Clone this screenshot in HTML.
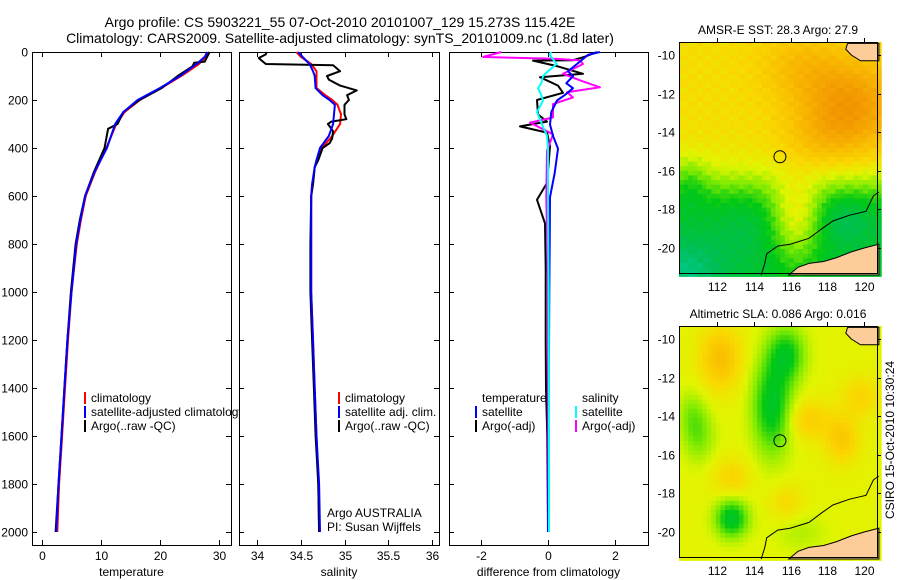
<!DOCTYPE html>
<html><head><meta charset="utf-8">
<style>
html,body{margin:0;padding:0;background:#fff;}
svg{display:block;font-family:"Liberation Sans",sans-serif;}
text{fill:#000;}
</style></head>
<body>
<svg id="fig" width="900" height="580" viewBox="0 0 900 580" xmlns="http://www.w3.org/2000/svg">
<text x="340" y="27" font-size="14" text-anchor="middle">Argo profile: CS 5903221_55 07-Oct-2010 20101007_129 15.273S 115.42E</text>
<text x="340" y="43" font-size="14" text-anchor="middle">Climatology: CARS2009. Satellite-adjusted climatology: synTS_20101009.nc (1.8d later)</text>
<g id="g"></g>
</svg>
<script>
// ---------- data ----------
const depthTicks=[0,200,400,600,800,1000,1200,1400,1600,1800,2000];
const tempTicks=[0,10,20,30];
const salTicks=[34,34.5,35,35.5,36];
const diffTicks=[-2,0,2];
const lonTicks=[112,114,116,118,120];
const latTicks=[-10,-12,-14,-16,-18,-20];

const tClimDepth=[0,20,50,100,150,200,250,300,400,500,600,700,800,1000,1200,1400,1600,1800,2000];
const tClimVal=[28.3,27.8,26.6,23.6,20.2,16.6,14.0,12.6,10.9,9.0,7.4,6.6,5.9,5.0,4.4,3.9,3.4,2.9,2.6];
const tSatVal=[28.0,27.6,26.2,23.4,20.0,16.2,13.8,12.4,11.0,8.9,7.3,6.5,5.8,5.0,4.3,3.8,3.3,2.8,2.4];
const tArgoDepth=[0,20,40,45,60,100,150,200,250,300,320,400,500,600,700,800,1000,1200,1400,1600,1800,2000];
const tArgoVal=[28.4,28.0,27.6,25.8,25.5,23.0,20.3,16.5,13.8,12.8,11.2,10.6,8.8,7.3,6.4,5.7,4.9,4.3,3.8,3.3,2.8,2.3];

const sDepth=[0,20,50,80,100,150,180,200,220,260,300,350,400,450,480,550,600,800,1000,1200,1400,1600,1800,2000];
const sClimVal=[34.45,34.5,34.62,34.68,34.68,34.68,34.78,34.86,34.92,34.96,34.95,34.86,34.74,34.69,34.66,34.64,34.62,34.62,34.62,34.64,34.66,34.68,34.70,34.71];
const sSatVal=[34.47,34.52,34.6,34.64,34.66,34.67,34.75,34.83,34.89,34.88,34.87,34.82,34.72,34.68,34.66,34.63,34.62,34.62,34.62,34.64,34.66,34.68,34.71,34.72];
const sArgoDepth=[0,10,25,35,50,55,80,100,115,140,160,180,200,220,260,280,290,300,330,360,380,400,450,480,550,600,800,1000,1200,1400,1600,1800,2000];
const sArgoVal=[34.11,34.1,34.02,34.05,34.1,34.87,34.95,34.8,34.82,34.95,35.14,35.03,35.05,35.0,35.0,35.02,34.85,34.81,34.87,34.86,34.83,34.75,34.7,34.66,34.64,34.62,34.61,34.61,34.63,34.65,34.67,34.70,34.71];

const dDepth=[0,12,50,80,101,130,151,180,202,250,302,349,403,504,605,800,1000,1500,2000];
const dTempSat=[1.56,1.2,0.87,0.6,0.75,0.55,0.75,0.5,0.27,0.1,0.06,0.15,0.3,0.2,0.06,0.05,0.04,0.02,0.0];
const dSalSat=[0.1,0.05,0.26,0.0,-0.15,-0.2,-0.3,-0.2,-0.15,-0.33,-0.18,-0.03,0.0,0.0,0.0,0.01,0.02,0.03,0.03];
const dTempArgoDepth=[0,20,34,36,60,91,105,140,170,200,260,290,310,336,392,546,616,714,900,1200,1400,1600,2000];
const dTempArgo=[1.47,1.1,0.75,-0.45,0.3,1.05,-0.24,0.3,0.45,-0.33,-0.3,-0.03,-0.84,-0.03,0.06,-0.03,-0.33,-0.09,-0.07,-0.07,-0.06,-0.02,0.0];
const dSalArgoDepth=[0,21,28,35,50,91,120,147,168,189,217,273,294,343,412,600,1000,1500,2000];
const dSalArgo=[-1.4,-1.95,0.2,0.96,1.05,0.45,1.0,1.56,0.57,0.75,0.15,0.15,-0.54,0.15,-0.03,-0.05,0.0,0.0,0.0];

// ---------- helpers ----------
const NS="http://www.w3.org/2000/svg";
const G=document.getElementById('g');
function el(tag,attrs,parent){const e=document.createElementNS(NS,tag);for(const k in attrs)e.setAttribute(k,attrs[k]);(parent||G).appendChild(e);return e;}
function txt(x,y,s,size,anchor,parent){const t=el('text',{x:x,y:y,'font-size':size,'text-anchor':anchor||'start'},parent);t.textContent=s;return t;}
const Y=d=>52+0.24*d;
const TOP=52,BOT=545;

function panel(name,x0,x1,xs,ticks,fmt,xlabel,showDepth){
  const g=el('g',{});
  
  
  const r=el('rect',{x:x0+0.5,y:TOP+0.5,width:x1-x0,height:BOT-TOP,fill:'#fff',stroke:'#000','stroke-width':1},g);
  
  
  ticks.forEach(v=>{const x=Math.round(xs(v))+0.5;
    el('line',{x1:x,x2:x,y1:TOP,y2:TOP+5,stroke:'#000'},g);
    el('line',{x1:x,x2:x,y1:BOT,y2:BOT-5,stroke:'#000'},g);
    const t=txt(x,560,fmt(v),12,'middle',g);
    
    
  });
  depthTicks.forEach(d=>{const y=Math.round(Y(d))+0.5;
    el('line',{x1:x0,x2:x0+5,y1:y,y2:y,stroke:'#000'},g);
    el('line',{x1:x1,x2:x1-5,y1:y,y2:y,stroke:'#000'},g);
    if(showDepth){const t=txt(x0-4,y+4,String(d),12,'end',g);
      
      }
  });
  const xl=txt((x0+x1)/2,576,xlabel,12,'middle',g);
  
  
  return g;
}
function series(g,name,depths,vals,xs,color,w){
  const pts=depths.map((d,i)=>xs(vals[i]).toFixed(1)+','+Y(d).toFixed(1)).join(' ');
  const p=el('polyline',{points:pts,fill:'none',stroke:color,'stroke-width':w||2,'stroke-linejoin':'round'},g);
  
  
}
function legend(g,x,y,color,label,name){
  el('rect',{x:x,y:y-6,width:2,height:12,fill:color},g);
  const t=txt(x+7,y+4,label,12,'start',g);
  
  
}

// ---------- temperature panel ----------
const xT=v=>42+5.9*v;
const p1=panel('temperature-panel',32,231,xT,tempTicks,v=>String(v),'temperature',true);
series(p1,'temperature-climatology-line',tClimDepth,tClimVal,xT,'#ff0000');
series(p1,'temperature-argo-line',tArgoDepth,tArgoVal,xT,'#000');
series(p1,'temperature-satellite-line',tClimDepth,tSatVal,xT,'#0000ff');
legend(p1,84,398,'#ff0000','climatology','legend-climatology');
legend(p1,84,412,'#0000ff','satellite-adjusted climatology','legend-satellite-adjusted');
legend(p1,84,426,'#000','Argo(..raw -QC)','legend-argo');

// ---------- salinity panel ----------
const xS=v=>257+87.5*(v-34);
const p2=panel('salinity-panel',239,439,xS,salTicks,v=>String(v),'salinity',false);
series(p2,'salinity-climatology-line',sDepth,sClimVal,xS,'#ff0000');
series(p2,'salinity-argo-line',sArgoDepth,sArgoVal,xS,'#000');
series(p2,'salinity-satellite-line',sDepth,sSatVal,xS,'#0000ff');
legend(p2,338,398,'#ff0000','climatology','legend-sal-climatology');
legend(p2,338,412,'#0000ff','satellite adj. clim.','legend-sal-satellite');
legend(p2,338,426,'#000','Argo(..raw -QC)','legend-sal-argo');
const a1=txt(327,517,'Argo AUSTRALIA',12,'start',p2);


const a2=txt(327,531,'PI: Susan Wijffels',12,'start',p2);



// ---------- difference panel ----------
const xD=v=>548+33.3*v;
const p3=panel('difference-panel',449,648,xD,diffTicks,v=>String(v),'difference from climatology',false);
series(p3,'temp-argo-diff-line',dTempArgoDepth,dTempArgo,xD,'#000');
series(p3,'sal-argo-diff-line',dSalArgoDepth,dSalArgo,xD,'#ff00ff');
series(p3,'temp-satellite-diff-line',dDepth,dTempSat,xD,'#0000ff');
series(p3,'sal-satellite-diff-line',dDepth,dSalSat,xD,'#00ffff');
const lt=txt(482,402,'temperature',12,'start',p3);


const ls=txt(582,402,'salinity',12,'start',p3);


legend(p3,475,412,'#0000ff','satellite','legend-temp-satellite');
legend(p3,475,426,'#000','Argo(-adj)','legend-temp-argo');
legend(p3,575,412,'#00ffff','satellite','legend-sal-satellite-diff');
legend(p3,575,426,'#ff00ff','Argo(-adj)','legend-sal-argo-diff');

// ---------- maps ----------
const stops=[[0,[0,215,190]],[0.15,[0,190,90]],[0.3,[0,200,20]],[0.42,[130,235,0]],[0.52,[225,245,0]],[0.62,[250,215,0]],[0.75,[248,180,0]],[0.9,[240,140,0]],[1,[230,120,0]]];
function cmap(v){v=Math.max(0,Math.min(1,v));for(let i=1;i<stops.length;i++){if(v<=stops[i][0]){const a=stops[i-1],b=stops[i],t=(v-a[0])/(b[0]-a[0]);return 'rgb('+a[1].map((c,k)=>Math.round(c+(b[1][k]-c)*t)).join(',')+')';}}return 'rgb(230,120,0)';}
const B=(lon,lat,x0,y0,sx,sy)=>Math.exp(-((lon-x0)**2/sx+(lat-y0)**2/sy));
function sst(lon,lat){
  const s=1/(1+Math.exp(-(-16.7-lat)*1.3));
  let v=0.6+0.26*B(lon,lat,119.2,-12.7,8,6)+0.1*B(lon,lat,116.5,-10.5,5,3)+0.06*B(lon,lat,117.5,-14.5,4,2)
   -0.36*s*(1-0.8*B(lon,lat,116.3,-18,2,8))-0.14*B(lon,lat,110.3,-21.2,4,3)-0.05*B(lon,lat,113.5,-19,3,3)
   -0.1*B(lon,lat,110.5,-16.5,1,2)-0.1*B(lon,lat,119,-18.5,2,1.5);
  return v+0.025*Math.sin(lon*7)*Math.cos(lat*9);}
function sla(lon,lat){let v=0.53-0.27*B(lon,lat,115,-13.5,1.1,6)-0.22*B(lon,lat,115.8,-10.8,1,2)-0.28*B(lon,lat,112.8,-19.3,0.8,1)
  -0.12*B(lon,lat,111,-15,0.8,2)-0.08*B(lon,lat,110.6,-13.8,0.6,1.5)+0.18*B(lon,lat,112.2,-11,1.2,2.5)+0.12*B(lon,lat,117,-14.2,1.5,1)+0.14*B(lon,lat,118.8,-15.2,0.8,1.5)
  +0.1*B(lon,lat,119.8,-13,1,1)+0.1*B(lon,lat,112.8,-17.2,1,1)+0.08*B(lon,lat,115.8,-18.5,0.8,1)-0.06*B(lon,lat,116.5,-20,2,1);return v;}
function drawMap(name,top,field,title){
  const L=679,R=877,Bt=top+231;
  const lx=lon=>717+(lon-112)*18.4, ly=lat=>top+13+(-10-lat)*19.3;
  const g=el('g',{});
  
  
  const cs=4.6;
  for(let x=L;x<R;x+=cs)for(let y=top;y<Bt;y+=cs){
    const lon=112+(x+cs/2-717)/18.4, lat=-10-(y+cs/2-top-13)/19.3;
    el('rect',{x:x.toFixed(1),y:y.toFixed(1),width:cs+0.3,height:cs+0.3,fill:cmap(field(lon,lat))},g);}
  const P=a=>a.map(p=>lx(p[0]).toFixed(1)+','+ly(p[1]).toFixed(1)).join(' ');
  const land1=el('polygon',{points:P([[119.1,-9.4],[120.8,-9.4],[120.8,-10.3],[119.8,-10.3],[119.3,-10.0],[119,-9.7]]),fill:'#fccc99',stroke:'#000','stroke-width':1},g);
  
  
  const land2=el('polygon',{points:P([[115.9,-21.4],[116.4,-21.0],[117,-20.8],[117.8,-20.7],[118.5,-20.5],[119.3,-20.2],[120,-20.0],[120.8,-19.8],[120.8,-21.4]]),fill:'#fccc99',stroke:'#000','stroke-width':1},g);
  
  
  el('polyline',{points:P([[114.4,-21.4],[114.6,-20.8],[114.7,-20.3],[115.3,-19.9],[116,-19.8],[117,-19.5],[117.7,-19.0],[118.3,-18.6],[119.2,-18.3],[120.1,-18.1],[120.5,-17.3],[120.8,-17.1]]),fill:'none',stroke:'#000','stroke-width':1},g);
  const c=el('circle',{cx:lx(115.42),cy:ly(-15.273),r:6,fill:'none',stroke:'#000','stroke-width':1},g);
  
  
  el('rect',{x:L+0.5,y:top+0.5,width:R-L,height:Bt-top,fill:'none',stroke:'#000'},g);
  lonTicks.forEach(v=>{const x=Math.round(lx(v))+0.5;el('line',{x1:x,x2:x,y1:top,y2:top-4,stroke:'#000'},g);
    const t=txt(x,Bt+18,String(v),12,'middle',g);});
  latTicks.forEach(v=>{const y=Math.round(ly(v))+0.5;el('line',{x1:R,x2:R+4,y1:y,y2:y,stroke:'#000'},g);
    const t=txt(L-4,y+4,String(v),12,'end',g);});
  const tt=txt((L+R)/2,top-8,title,12,'middle',g);
  
  
}
drawMap('sst-map',42,sst,'AMSR-E SST: 28.3 Argo: 27.9');
drawMap('sla-map',326,sla,'Altimetric SLA: 0.086 Argo: 0.016');
const cr=txt(0,0,'CSIRO 15-Oct-2010 10:30:24',12,'middle');
cr.setAttribute('transform','translate(894,440) rotate(-90)');


</script>
</body></html>
